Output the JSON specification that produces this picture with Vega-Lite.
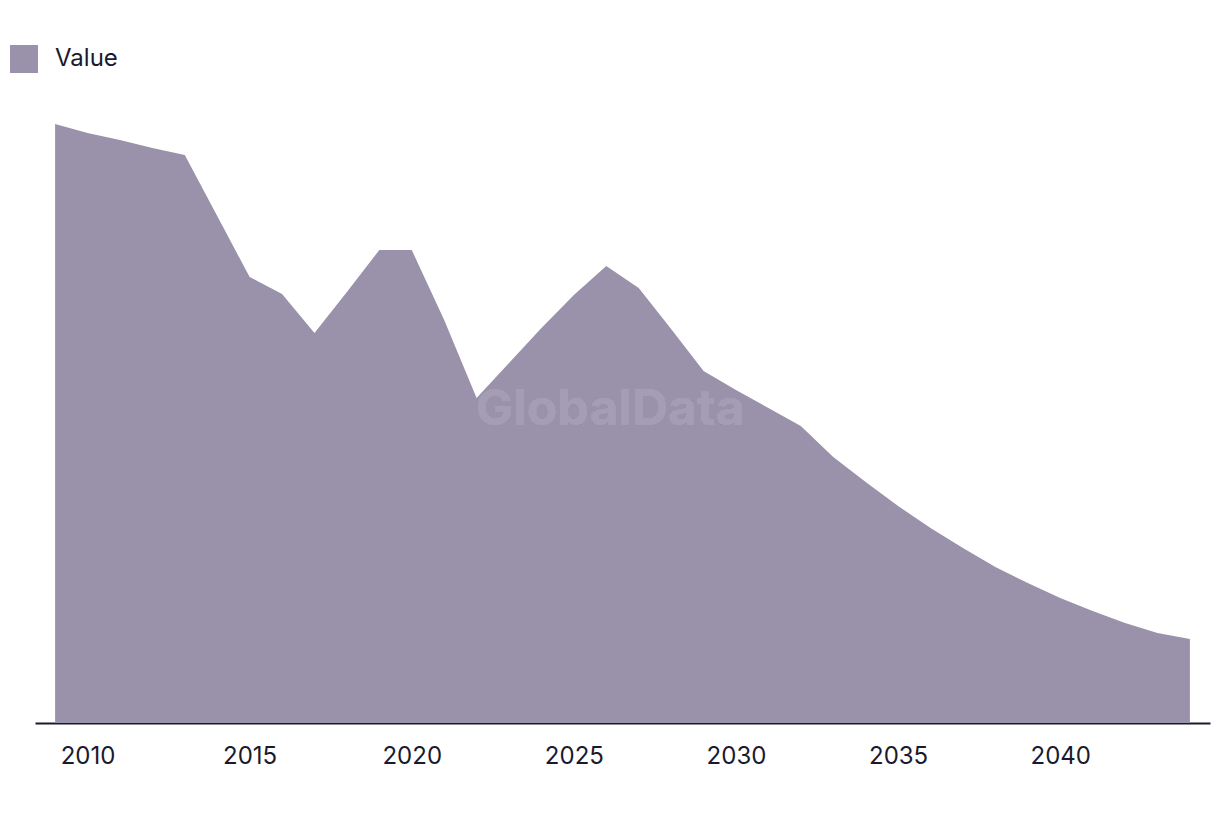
{
  "$schema": "https://vega.github.io/schema/vega-lite/v6.json",
  "autosize": {"type": "none"},
  "width": 1175,
  "height": 600,
  "padding": {"left": 35, "top": 123, "right": 10, "bottom": 93},
  "background": "white",
  "config": {
    "font": "Inter",
    "view": {"stroke": null}
  },
  "data": {
    "values": [
      {"year": 2009, "value": 599, "series": "Value"},
      {"year": 2010, "value": 590, "series": "Value"},
      {"year": 2011, "value": 583, "series": "Value"},
      {"year": 2012, "value": 575, "series": "Value"},
      {"year": 2013, "value": 568, "series": "Value"},
      {"year": 2014, "value": 507, "series": "Value"},
      {"year": 2015, "value": 446, "series": "Value"},
      {"year": 2016, "value": 429, "series": "Value"},
      {"year": 2017, "value": 390, "series": "Value"},
      {"year": 2018, "value": 431, "series": "Value"},
      {"year": 2019, "value": 473, "series": "Value"},
      {"year": 2020, "value": 473, "series": "Value"},
      {"year": 2021, "value": 403, "series": "Value"},
      {"year": 2022, "value": 325, "series": "Value"},
      {"year": 2023, "value": 360, "series": "Value"},
      {"year": 2024, "value": 395, "series": "Value"},
      {"year": 2025, "value": 428, "series": "Value"},
      {"year": 2026, "value": 457, "series": "Value"},
      {"year": 2027, "value": 435, "series": "Value"},
      {"year": 2028, "value": 394, "series": "Value"},
      {"year": 2029, "value": 352, "series": "Value"},
      {"year": 2030, "value": 333, "series": "Value"},
      {"year": 2031, "value": 315, "series": "Value"},
      {"year": 2032, "value": 297, "series": "Value"},
      {"year": 2033, "value": 266, "series": "Value"},
      {"year": 2034, "value": 241, "series": "Value"},
      {"year": 2035, "value": 217, "series": "Value"},
      {"year": 2036, "value": 195, "series": "Value"},
      {"year": 2037, "value": 175, "series": "Value"},
      {"year": 2038, "value": 156, "series": "Value"},
      {"year": 2039, "value": 140, "series": "Value"},
      {"year": 2040, "value": 125, "series": "Value"},
      {"year": 2041, "value": 112, "series": "Value"},
      {"year": 2042, "value": 100, "series": "Value"},
      {"year": 2043, "value": 90, "series": "Value"},
      {"year": 2044, "value": 84, "series": "Value"}
    ]
  },
  "layer": [
    {
      "mark": {"type": "area", "opacity": 1},
      "encoding": {
        "x": {
          "field": "year",
          "type": "quantitative",
          "scale": {"domain": [2008.38, 2044.62], "nice": false, "zero": false},
          "axis": {
            "title": null,
            "values": [2010, 2015, 2020, 2025, 2030, 2035, 2040],
            "format": "d",
            "ticks": false,
            "grid": false,
            "domainColor": "#1a1a2e",
            "domainWidth": 2,
            "labelFontSize": 24,
            "labelColor": "#1a1a2e",
            "labelPadding": 21
          }
        },
        "y": {
          "field": "value",
          "type": "quantitative",
          "scale": {"domain": [0, 600], "nice": false},
          "axis": null
        },
        "color": {
          "field": "series",
          "type": "nominal",
          "scale": {"range": ["#9a91aa"]},
          "legend": {
            "title": null,
            "orient": "none",
            "legendX": -25,
            "legendY": -78,
            "symbolType": "square",
            "symbolSize": 784,
            "symbolOpacity": 1,
            "symbolStrokeWidth": 0,
            "labelFontSize": 24,
            "labelColor": "#1a1a2e",
            "labelOffset": 17
          }
        }
      }
    },
    {
      "mark": {"type": "text", "text": "GlobalData", "fontSize": 50, "fontWeight": "bold", "color": "#a59db3", "font": "Inter"},
      "encoding": {
        "x": {"datum": 2026.12},
        "y": {"datum": 313}
      }
    }
  ]
}
